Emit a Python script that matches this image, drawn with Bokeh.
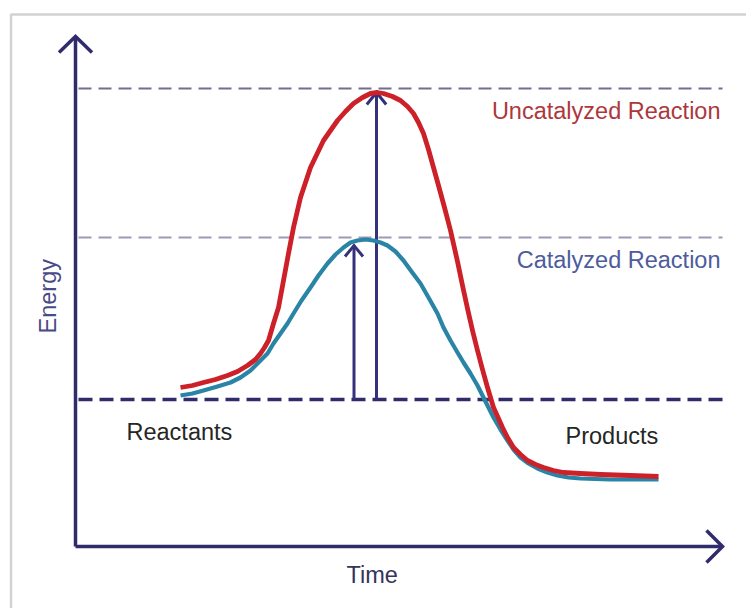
import numpy as np
from bokeh.plotting import figure
from bokeh.models import Range1d
from bokeh.core.properties import value
from bokeh.embed import file_html
from bokeh.resources import INLINE

# ---------------- data (time / energy, arbitrary units) ----------------
time_uncat = [2.10, 2.34, 2.56, 2.80, 3.04, 3.24, 3.44, 3.60, 3.70, 3.78, 3.86, 3.96,
              4.06, 4.16, 4.26, 4.36, 4.50, 4.70, 4.96, 5.24, 5.40, 5.56, 5.74, 5.90,
              6.04, 6.16, 6.34, 6.50, 6.64, 6.76, 6.86, 6.96, 7.06, 7.16, 7.26, 7.38,
              7.50, 7.64, 7.74, 7.84, 7.94, 8.04, 8.14, 8.24, 8.36, 8.46, 8.54, 8.64,
              8.76, 8.90, 9.04, 9.20, 9.36, 9.56, 9.76, 10.10, 10.50, 11.10, 11.66]
energy_uncat = [3.18, 3.22, 3.28, 3.34, 3.42, 3.50, 3.62, 3.74, 3.86, 3.98, 4.12, 4.46,
                4.78, 5.32, 5.86, 6.38, 6.98, 7.58, 8.12, 8.52, 8.70, 8.86, 8.98, 9.06,
                9.08, 9.06, 9.00, 8.92, 8.80, 8.66, 8.48, 8.26, 7.94, 7.58, 7.22, 6.78,
                6.32, 5.70, 5.22, 4.76, 4.32, 3.92, 3.54, 3.18, 2.78, 2.56, 2.38, 2.18,
                1.98, 1.84, 1.72, 1.64, 1.58, 1.52, 1.48, 1.46, 1.44, 1.42, 1.40]

time_cat = [2.10, 2.34, 2.56, 2.84, 3.10, 3.30, 3.50, 3.66, 3.84, 3.96, 4.10, 4.24,
            4.36, 4.52, 4.70, 4.86, 5.04, 5.20, 5.36, 5.50, 5.64, 5.80, 5.96, 6.10,
            6.24, 6.40, 6.56, 6.72, 6.90, 7.06, 7.24, 7.36, 7.50, 7.64, 7.76, 7.90,
            8.04, 8.16, 8.26, 8.36, 8.50, 8.64, 8.76, 8.90, 9.06, 9.24, 9.44, 9.64,
            9.86, 10.10, 10.70, 11.66]
energy_cat = [3.02, 3.06, 3.12, 3.20, 3.28, 3.38, 3.52, 3.68, 3.86, 4.06, 4.26, 4.46,
              4.66, 4.92, 5.18, 5.42, 5.66, 5.84, 5.98, 6.08, 6.12, 6.14, 6.12, 6.08,
              6.02, 5.90, 5.72, 5.50, 5.26, 4.98, 4.66, 4.38, 4.12, 3.88, 3.68, 3.46,
              3.22, 2.98, 2.78, 2.58, 2.34, 2.12, 1.94, 1.78, 1.66, 1.56, 1.48, 1.42,
              1.38, 1.36, 1.34, 1.34]

reactant_level = 2.94
peak_levels = [9.16, 6.18]          # uncatalyzed, catalyzed (dashed guide lines)
arrow_times = [6.02, 5.57]          # uncatalyzed, catalyzed activation arrows
arrow_tips = [9.08, 6.02]

axis_max_time = 12.94
axis_max_energy = 10.20

series_labels = ["Uncatalyzed Reaction", "Catalyzed Reaction"]
state_labels = ["Reactants", "Products"]
x_title = "Time"
y_title = "Energy"

# ---------------- layout ----------------
W, H = 746, 608
OX, OY = 75, 546           # origin in figure pixels (from left / from top)
SX, SY = 50.0, 50.0        # pixels per unit


def tx(px):  # figure px -> time
    return (px - OX) / SX


def ey(py):  # figure px (from top) -> energy
    return (OY - py) / SY


p = figure(width=W, height=H, output_backend="svg", toolbar_location=None,
           x_range=Range1d(tx(0), tx(W)), y_range=Range1d(ey(H), ey(0)),
           min_border=0, min_border_left=0, min_border_right=0,
           min_border_top=0, min_border_bottom=0)
p.axis.visible = False
p.grid.visible = False
p.outline_line_color = None
p.background_fill_color = "white"
p.border_fill_color = "white"

# light grey frame (top and left edges visible)
p.line([tx(10.5), tx(10.5), tx(W)], [ey(H), ey(14), ey(14)],
       line_color="#d2d2d2", line_width=2.5)

FONT = value("Liberation Sans")
FS = value("23.5px")
AX = "#302c6c"

# dashed energy levels
p.segment(x0=[tx(78)], y0=[peak_levels[0]], x1=[axis_max_time], y1=[peak_levels[0]],
          line_color="#6f6f92", line_width=2, line_dash="13 7")
p.segment(x0=[tx(78)], y0=[peak_levels[1]], x1=[axis_max_time], y1=[peak_levels[1]],
          line_color="#9a9ab6", line_width=2, line_dash="13 7")
p.segment(x0=[tx(78)], y0=[reactant_level], x1=[axis_max_time], y1=[reactant_level],
          line_color=AX, line_width=3.5, line_dash="14 7")


def chevron(t, e, dx, dy, hw, ln):
    """open arrow head at tip (t,e); direction (dx,dy) in pixel space (y up)."""
    bx, by = -dx, -dy
    px_, py_ = -dy, dx
    xs = [t + (bx * ln + px_ * hw) / SX, t, t + (bx * ln - px_ * hw) / SX]
    ys = [e + (by * ln + py_ * hw) / SY, e, e + (by * ln - py_ * hw) / SY]
    return xs, ys


# axes
p.line([0, 0], [0, axis_max_energy], line_color=AX, line_width=3.5)
p.line([0, axis_max_time], [0, 0], line_color=AX, line_width=3.5)
xs, ys = chevron(0, axis_max_energy, 0, 1, 16.5, 16)
p.line(xs, ys, line_color=AX, line_width=3.5, line_join="miter")
xs, ys = chevron(axis_max_time, 0, 1, 0, 16, 16)
p.line(xs, ys, line_color=AX, line_width=3.5, line_join="miter")

# activation energy arrows
for at, tip, hw, ln in zip(arrow_times, arrow_tips, [9.7, 9.0], [12, 11]):
    p.line([at, at], [reactant_level, tip], line_color="#35317a", line_width=3)
    xs, ys = chevron(at, tip, 0, 1, hw, ln)
    p.line(xs, ys, line_color="#35317a", line_width=3, line_join="miter")

# reaction curves
p.line(time_cat, energy_cat, line_color="#2a84a6", line_width=4.2,
       line_join="round", line_cap="butt")
p.line(time_uncat, energy_uncat, line_color="#cc2128", line_width=4.8,
       line_join="round", line_cap="butt")

# labels
p.text(x=[tx(720)], y=[ey(110)], text=[series_labels[0]], text_font=FONT,
       text_font_size=FS, text_color="#ac383d", text_align="right",
       text_baseline="alphabetic")
p.text(x=[tx(720)], y=[ey(259)], text=[series_labels[1]], text_font=FONT,
       text_font_size=FS, text_color="#4d5c9c", text_align="right",
       text_baseline="alphabetic")
p.text(x=[tx(126), tx(565)], y=[ey(431), ey(435)], text=state_labels, text_font=FONT,
       text_font_size=FS, text_color="#262626", text_align="left",
       text_baseline="alphabetic")
p.text(x=[tx(346)], y=[ey(574)], text=[x_title], text_font=FONT,
       text_font_size=FS, text_color="#35345a", text_align="left",
       text_baseline="alphabetic")
p.text(x=[tx(47)], y=[ey(333)], text=[y_title], text_font=FONT, angle=np.pi / 2,
       text_font_size=FS, text_color="#4a4a88", text_align="left",
       text_baseline="alphabetic")

open("out.html", "w").write(file_html(p, INLINE))
